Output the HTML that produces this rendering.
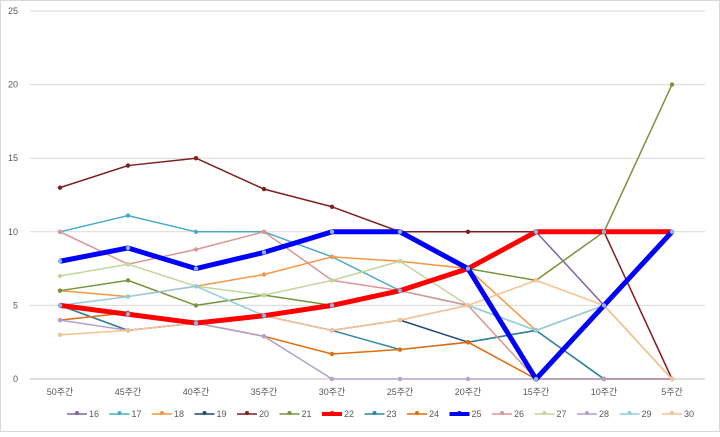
<!DOCTYPE html>
<html><head><meta charset="utf-8"><style>
body{margin:0;background:#fff;font-family:"Liberation Sans","Noto Sans CJK KR",sans-serif}
svg text{font-family:"Liberation Sans","Noto Sans CJK KR",sans-serif;font-size:9px;fill:#595959}
</style></head><body>
<svg id="c" width="720" height="432"></svg>
<script>
const categories=["50주간","45주간","40주간","35주간","30주간","25주간","20주간","15주간","10주간","5주간"];
const yTicks=[0,5,10,15,20,25];
const seriesNames=["16","17","18","19","20","21","22","23","24","25","26","27","28","29","30"];
const s16=[5,4.4,3.8,4.3,5,6,7.5,10,5,10];
const s17=[10,11.1,10,10,8.3,6,5,3.3,5,10];
const s18=[6,5.6,6.3,7.1,8.3,8,7.5,3.3,5,0];
const s19=[5,3.3,3.8,4.3,3.3,4,2.5,3.3,0,0];
const s20=[13,14.5,15,12.9,11.7,10,10,10,10,0];
const s21=[6,6.7,5,5.7,5,6,7.5,6.7,10,20];
const s22=[5,4.4,3.8,4.3,5,6,7.5,10,10,10];
const s23=[5,3.3,3.8,4.3,3.3,2,2.5,3.3,0,0];
const s24=[4,4.5,3.8,2.9,1.7,2,2.5,0,0,0];
const s25=[8,8.9,7.5,8.6,10,10,7.5,0,5,10];
const s26=[10,7.8,8.8,10,6.7,6,5,0,0,0];
const s27=[7,7.8,6.3,5.7,6.7,8,5,3.3,5,0];
const s28=[4,3.3,3.8,2.9,0,0,0,0,0,0];
const s29=[5,5.6,6.3,4.3,3.3,4,5,3.3,5,0];
const s30=[3,3.3,3.8,4.3,3.3,4,5,6.7,5,0];
const allSeries=[s16,s17,s18,s19,s20,s21,s22,s23,s24,s25,s26,s27,s28,s29,s30];
const colors=["#8064A2","#4BACC6","#F79646","#1F497D","#7F1F1F","#77933C","#FF0000","#31859C","#E46C0A","#0000FF","#D99694","#C3D69B","#B3A2C7","#93CDDD","#FAC090"];
const widths=[1.5,1.5,1.5,1.5,1.5,1.5,5,1.5,1.5,5,1.5,1.5,1.5,1.5,1.5];
const NS="http://www.w3.org/2000/svg";
const svg=document.getElementById('c');
const x0=60,dx=68,y0=379,yTop=11,yMax=25;
const X=i=>x0+i*dx;
const Y=v=>y0-(v/yMax)*(y0-yTop);
function mk(t,a){const e=document.createElementNS(NS,t);for(const k in a)e.setAttribute(k,a[k]);svg.appendChild(e);return e;}
const border=mk('rect',{x:0.5,y:0.5,width:719,height:431,fill:'none',stroke:'#d9d9d9'});


yTicks.forEach(t=>{
 const g=mk('line',{x1:30,x2:705,y1:Y(t),y2:Y(t),stroke:t===0?'#bfbfbf':'#d9d9d9','stroke-width':1});
 
 
 const l=mk('text',{x:18,y:Y(t)+3,'text-anchor':'end'});l.textContent=t;
 
 
});
categories.forEach((c,i)=>{
 const l=mk('text',{x:X(i),y:395,'text-anchor':'middle'});l.textContent=c;
 
 
});
const order=[0,1,2,3,4,5,7,8,10,11,12,13,14,6,9];
order.forEach(k=>{
 const d=allSeries[k];
 const p=mk('polyline',{points:d.map((v,i)=>X(i)+','+Y(v)).join(' '),fill:'none',stroke:colors[k],'stroke-width':widths[k],'stroke-linejoin':'round'});
 
 
 d.forEach((v,i)=>{
  const c=mk('circle',{cx:X(i),cy:Y(v),r:2.2,fill:k===6||k===9?'#8eb4e3':colors[k]});
  
  
 });
});
seriesNames.forEach((n,k)=>{
 const lx=67+k*42.5,ly=414;
 const l=mk('line',{x1:lx,x2:lx+20,y1:ly,y2:ly,stroke:colors[k],'stroke-width':widths[k]>2?4:1.5});
 
 
 const c=mk('circle',{cx:lx+10,cy:ly-1,r:2,fill:colors[k]});
 
 
 const t=mk('text',{x:lx+22,y:ly+3});t.textContent=n;
 
 
});
</script>
</body></html>
